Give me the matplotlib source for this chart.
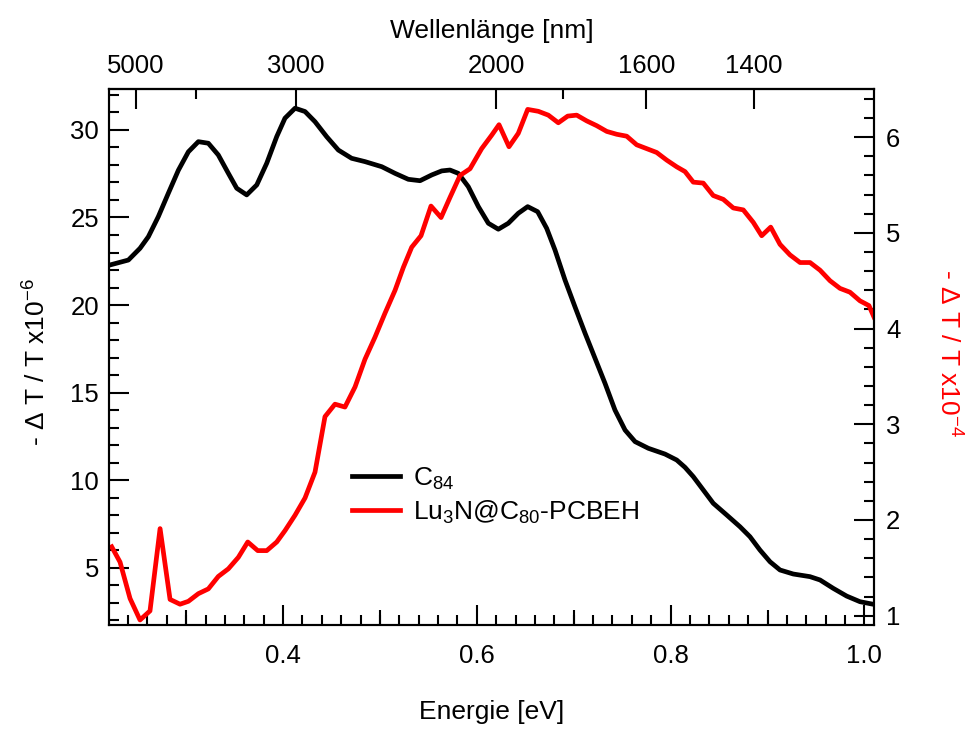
import numpy as np
import matplotlib
matplotlib.use("Agg")
import matplotlib.pyplot as plt
from matplotlib.ticker import MultipleLocator, FixedLocator, NullFormatter

plt.rcParams['font.family'] = ['Liberation Sans', 'DejaVu Sans']
plt.rcParams['mathtext.fontset'] = 'custom'
plt.rcParams['mathtext.rm'] = 'Liberation Sans'
plt.rcParams['mathtext.it'] = 'Liberation Sans:italic'
plt.rcParams['mathtext.bf'] = 'Liberation Sans:bold'

# ---- data ----
energy_c84 = [0.2215, 0.2404, 0.2524, 0.2610, 0.2713, 0.2816, 0.2920, 0.3023, 0.3126, 0.3229,
              0.3332, 0.3436, 0.3522, 0.3625, 0.3729, 0.3832, 0.3935, 0.4020, 0.4124, 0.4227,
              0.4330, 0.4451, 0.4571, 0.4708, 0.4846, 0.5019, 0.5156, 0.5293, 0.5414, 0.5535,
              0.5638, 0.5723, 0.5809, 0.5912, 0.6016, 0.6119, 0.6222, 0.6325, 0.6428, 0.6525,
              0.6628, 0.6721, 0.6807, 0.6910, 0.7013, 0.7117, 0.7220, 0.7323, 0.7426, 0.7530,
              0.7633, 0.7770, 0.7942, 0.8063, 0.8149, 0.8234, 0.8337, 0.8440, 0.8579, 0.8716,
              0.8819, 0.8922, 0.9026, 0.9129, 0.9266, 0.9438, 0.9542, 0.9679, 0.9817, 0.9954,
              1.0075]
signal_c84 = [22.29, 22.57, 23.24, 23.90, 25.05, 26.38, 27.70, 28.75, 29.33, 29.24,
              28.57, 27.52, 26.67, 26.29, 26.86, 28.10, 29.62, 30.67, 31.24, 31.05,
              30.47, 29.61, 28.85, 28.38, 28.19, 27.90, 27.52, 27.18, 27.10, 27.43,
              27.66, 27.71, 27.52, 26.76, 25.62, 24.67, 24.33, 24.67, 25.24, 25.62,
              25.33, 24.38, 23.14, 21.43, 19.90, 18.39, 16.96, 15.53, 14.00, 12.86,
              12.20, 11.82, 11.49, 11.15, 10.73, 10.20, 9.44, 8.68, 8.01, 7.34,
              6.77, 6.01, 5.34, 4.87, 4.64, 4.49, 4.30, 3.82, 3.38, 3.06,
              2.93]

energy_lu = [0.2232, 0.2318, 0.2421, 0.2524, 0.2627, 0.2731, 0.2834, 0.2937, 0.3023, 0.3126,
             0.3229, 0.3332, 0.3436, 0.3539, 0.3636, 0.3739, 0.3832, 0.3935, 0.4021, 0.4124,
             0.4227, 0.4330, 0.4433, 0.4536, 0.4639, 0.4743, 0.4846, 0.4949, 0.5052, 0.5156,
             0.5242, 0.5328, 0.5424, 0.5527, 0.5631, 0.5723, 0.5827, 0.5930, 0.6050, 0.6153,
             0.6229, 0.6332, 0.6428, 0.6525, 0.6635, 0.6738, 0.6841, 0.6938, 0.7031, 0.7134,
             0.7237, 0.7341, 0.7444, 0.7547, 0.7650, 0.7753, 0.7856, 0.7960, 0.8063, 0.8149,
             0.8234, 0.8337, 0.8440, 0.8544, 0.8647, 0.8750, 0.8853, 0.8940, 0.9033, 0.9129,
             0.9232, 0.9336, 0.9439, 0.9542, 0.9645, 0.9748, 0.9851, 0.9954, 1.0047, 1.0099]
signal_lu = [1.72, 1.56, 1.18, 0.955, 1.05, 1.91, 1.17, 1.12, 1.15, 1.23,
             1.28, 1.41, 1.49, 1.61, 1.77, 1.68, 1.68, 1.77, 1.89, 2.05,
             2.23, 2.50, 3.08, 3.21, 3.18, 3.39, 3.68, 3.91, 4.16, 4.40,
             4.64, 4.85, 4.97, 5.28, 5.16, 5.37, 5.60, 5.67, 5.88, 6.02,
             6.13, 5.90, 6.04, 6.29, 6.27, 6.23, 6.15, 6.22, 6.23, 6.17,
             6.12, 6.06, 6.03, 6.01, 5.92, 5.88, 5.84, 5.76, 5.69, 5.64,
             5.53, 5.52, 5.39, 5.35, 5.26, 5.24, 5.11, 4.97, 5.06, 4.88,
             4.77, 4.69, 4.69, 4.61, 4.50, 4.42, 4.38, 4.29, 4.24, 4.12]

wavelength_major = [5000, 3000, 2000, 1600, 1400]
wavelength_minor = [4000, 1800]

label_c84 = r'C$_{84}$'
label_lu = r'Lu$_3$N@C$_{80}$-PCBEH'

HC = 1239.84

def e_to_nm(e):
    e = np.asarray(e, dtype=float)
    with np.errstate(divide='ignore', invalid='ignore'):
        return HC / e

# ---- figure ----
fs_tick = 18.5
fs_lab = 19
lw_spine = 1.5
red = '#ff0000'
fig = plt.figure(figsize=(9.75, 7.29), dpi=100)
ax = fig.add_axes([0.1121, 0.1427, 0.7846, 0.7348])
ax2 = ax.twinx()

l1, = ax.plot(energy_c84, signal_c84, color='black', lw=3.4, solid_joinstyle='round')
l2, = ax2.plot(energy_lu, signal_lu, color=red, lw=3.4, solid_joinstyle='round')

ax.set_xlim(0.2207, 1.0102)
ax.set_ylim(1.73, 32.32)
ax2.set_ylim(0.903, 6.50)

for a in (ax, ax2):
    for s in a.spines.values():
        s.set_linewidth(lw_spine)

# bottom axis
ax.xaxis.set_major_locator(FixedLocator([0.4, 0.6, 0.8, 1.0]))
ax.xaxis.set_minor_locator(MultipleLocator(0.02))
ax.set_xticklabels(['0.4', '0.6', '0.8', '1.0'])
ax.tick_params(axis='x', which='major', direction='in', length=14.4, width=lw_spine,
               labelsize=fs_tick, pad=14, top=False)
ax.tick_params(axis='x', which='minor', direction='in', length=7.2, width=lw_spine, top=False)
# medium ticks at odd tenths
axm = ax.secondary_xaxis('bottom')
axm.set_xticks([0.3, 0.5, 0.7, 0.9])
axm.xaxis.set_major_formatter(NullFormatter())
axm.tick_params(axis='x', direction='in', length=10.8, width=lw_spine)
axm.spines['bottom'].set_visible(False)

# left axis
ax.yaxis.set_major_locator(MultipleLocator(5))
ax.yaxis.set_minor_locator(MultipleLocator(1))
ax.tick_params(axis='y', which='major', direction='in', length=14.4, width=lw_spine,
               labelsize=fs_tick, pad=7.5)
ax.tick_params(axis='y', which='minor', direction='in', length=7.2, width=lw_spine)

# right axis
ax2.yaxis.set_major_locator(MultipleLocator(1))
ax2.yaxis.set_minor_locator(MultipleLocator(0.2))
ax2.tick_params(axis='y', which='major', direction='in', length=14.4, width=lw_spine,
                labelsize=fs_tick, pad=8.5)
ax2.tick_params(axis='y', which='minor', direction='in', length=7.2, width=lw_spine)

# top wavelength axis
axt = ax.secondary_xaxis('top', functions=(e_to_nm, e_to_nm))
axt.set_xticks(wavelength_major)
axt.set_xticks(wavelength_minor, minor=True)
axt.set_xticklabels([str(w) for w in wavelength_major])
axt.tick_params(axis='x', which='major', direction='in', length=14.4, width=lw_spine,
                labelsize=fs_tick, pad=8)
axt.tick_params(axis='x', which='minor', direction='in', length=7.2, width=lw_spine)
axt.xaxis.set_minor_formatter(NullFormatter())
axt.spines['top'].set_linewidth(lw_spine)
axt.set_xlabel('Wellenlänge [nm]', fontsize=fs_lab, labelpad=11.4)

ax.set_xlabel('Energie [eV]', fontsize=fs_lab)
ax.xaxis.set_label_coords(0.4996, -0.1394)
ax.set_ylabel(r'- Δ T / T x10$^{-6}$', fontsize=fs_lab)
ax.yaxis.set_label_coords(-0.0769, 0.49)
ax2.set_ylabel(r'- Δ T / T x10$^{-4}$', fontsize=fs_lab, color=red, rotation=270,
               va='bottom', ha='center')
ax2.yaxis.set_label_coords(1.0787, 0.5075)

leg = ax2.legend([l1, l2], [label_c84, label_lu], loc='center left',
                 bbox_to_anchor=(0.3169, 0.2416), frameon=False, fontsize=fs_lab,
                 handlelength=1.83, handletextpad=0.48, labelspacing=0.25,
                 borderpad=0, borderaxespad=0)

fig.savefig('out.png', dpi=100)
